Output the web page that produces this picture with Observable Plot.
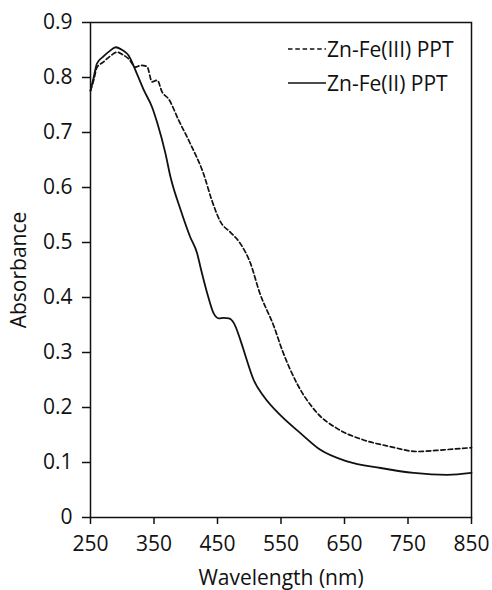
<!DOCTYPE html>
<html>
<head>
<meta charset="utf-8">
<script src="https://cdn.jsdelivr.net/npm/d3@7"></script>
<script src="https://cdn.jsdelivr.net/npm/@observablehq/plot@0.6"></script>
<style>
  body { margin: 0; background: #fff; }
  #wrap { position: relative; width: 492px; height: 590px; font-family: "Open Sans", sans-serif; }
  #legend { position: absolute; left: 288px; top: 32px; font-size: 21px; color: #111; line-height: 34px; }
  #legend div { display: flex; align-items: center; white-space: nowrap; }
  #legend svg { margin-right: 1px; }
</style>
</head>
<body>
<div id="wrap"><div id="legend"></div></div>
<script>
const seriesNames = ["Zn-Fe(III) PPT", "Zn-Fe(II) PPT"];
const xTicks = [250, 350, 450, 550, 650, 750, 850];
const yTicks = [0, 0.1, 0.2, 0.3, 0.4, 0.5, 0.6, 0.7, 0.8, 0.9];

// Zn-Fe(III) PPT (dashed)
const fe3Nm = [250, 255, 260, 270, 280, 292, 300, 310, 321, 329, 339, 347, 355, 363, 373, 389, 407, 428, 441, 455, 470, 486, 502, 516, 539, 552, 575, 607, 638, 680, 722, 764, 806, 850];
const fe3Abs = [0.776, 0.795, 0.818, 0.828, 0.838, 0.846, 0.842, 0.834, 0.819, 0.822, 0.820, 0.792, 0.795, 0.773, 0.761, 0.722, 0.680, 0.625, 0.577, 0.537, 0.519, 0.498, 0.462, 0.410, 0.347, 0.304, 0.244, 0.190, 0.162, 0.141, 0.129, 0.120, 0.123, 0.127];

// Zn-Fe(II) PPT (solid)
const fe2Nm = [250, 255, 260, 270, 280, 290, 300, 310, 323, 334, 347, 355, 368, 376, 392, 407, 418, 423, 434, 444, 452, 460, 468, 476, 486, 494, 507, 523, 549, 581, 612, 654, 707, 759, 812, 850];
const fe2Abs = [0.776, 0.800, 0.825, 0.838, 0.848, 0.855, 0.850, 0.840, 0.807, 0.777, 0.746, 0.718, 0.662, 0.619, 0.559, 0.510, 0.480, 0.456, 0.407, 0.371, 0.362, 0.363, 0.362, 0.353, 0.323, 0.294, 0.250, 0.220, 0.186, 0.153, 0.123, 0.102, 0.090, 0.081, 0.0775, 0.081];

const fe3 = fe3Nm.map((x, i) => ({nm: x, a: fe3Abs[i]}));
const fe2 = fe2Nm.map((x, i) => ({nm: x, a: fe2Abs[i]}));

const ink = "#111";
const dash = "4.5,2.8";

const chart = Plot.plot({
  width: 492,
  height: 590,
  marginLeft: 90,
  marginRight: 21,
  marginTop: 22,
  marginBottom: 73,
  style: { fontFamily: "Open Sans, sans-serif", fontSize: "21px", color: ink, background: "#fff" },
  x: { domain: [250, 850] },
  y: { domain: [0, 0.9] },
  marks: [
    Plot.frame({ stroke: ink, strokeWidth: 1.5 }),
    Plot.axisX({ ticks: xTicks, tickSize: 7, tickPadding: 12, strokeWidth: 1.5,
      label: "Wavelength (nm)", labelAnchor: "center", labelArrow: "none", labelOffset: 67 }),
    Plot.axisY({ ticks: yTicks, tickSize: 8, tickPadding: 10, strokeWidth: 1.5,
      tickFormat: d => d === 0 ? "0" : d.toFixed(1),
      label: "Absorbance", labelAnchor: "center", labelArrow: "none", labelOffset: 79 }),
    Plot.line(fe3, { x: "nm", y: "a", stroke: ink, strokeWidth: 1.7, strokeDasharray: dash, curve: "monotone-x" }),
    Plot.line(fe2, { x: "nm", y: "a", stroke: ink, strokeWidth: 1.8, curve: "monotone-x" })
  ]
});
document.getElementById("wrap").prepend(chart);

const legend = document.getElementById("legend");
[[seriesNames[0], dash], [seriesNames[1], null]].forEach(([name, d]) => {
  const row = document.createElement("div");
  row.innerHTML = `<svg width="38" height="10"><line x1="0" x2="38" y1="5" y2="5" stroke="${ink}" stroke-width="1.7" ${d ? `stroke-dasharray="${d}"` : ""}/></svg><span>${name}</span>`;
  legend.appendChild(row);
});
</script>
</body>
</html>
